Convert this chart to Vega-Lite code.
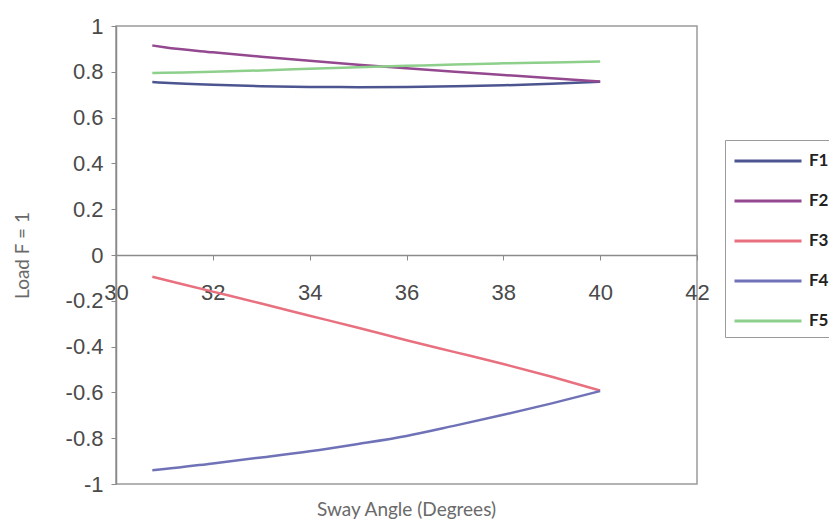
{
  "$schema": "https://vega.github.io/schema/vega-lite/v6.json",
  "autosize": "none",
  "width": 581,
  "height": 458,
  "padding": {"left": 116, "top": 26, "right": 132, "bottom": 39},
  "background": "white",
  "config": {
    "view": {"stroke": "#9a9a9a", "strokeWidth": 1.5},
    "font": "Liberation Sans"
  },
  "title": {
    "text": "Sway Angle (Degrees)",
    "orient": "bottom",
    "anchor": "middle",
    "font": "Lato",
    "fontSize": 19,
    "fontWeight": "normal",
    "color": "#6a6a6a",
    "offset": 6
  },
  "data": {
    "values": [
      {"angle": 30.75, "force": "F1", "load": 0.755},
      {"angle": 31, "force": "F1", "load": 0.752},
      {"angle": 32, "force": "F1", "load": 0.743},
      {"angle": 33, "force": "F1", "load": 0.737},
      {"angle": 34, "force": "F1", "load": 0.734},
      {"angle": 35, "force": "F1", "load": 0.733},
      {"angle": 36, "force": "F1", "load": 0.734},
      {"angle": 37, "force": "F1", "load": 0.737},
      {"angle": 38, "force": "F1", "load": 0.741},
      {"angle": 39, "force": "F1", "load": 0.748},
      {"angle": 40, "force": "F1", "load": 0.757},
      {"angle": 30.75, "force": "F2", "load": 0.915},
      {"angle": 31, "force": "F2", "load": 0.907},
      {"angle": 32, "force": "F2", "load": 0.885},
      {"angle": 33, "force": "F2", "load": 0.866},
      {"angle": 34, "force": "F2", "load": 0.848},
      {"angle": 35, "force": "F2", "load": 0.831},
      {"angle": 36, "force": "F2", "load": 0.815},
      {"angle": 37, "force": "F2", "load": 0.8},
      {"angle": 38, "force": "F2", "load": 0.786},
      {"angle": 39, "force": "F2", "load": 0.772},
      {"angle": 40, "force": "F2", "load": 0.757},
      {"angle": 30.75, "force": "F3", "load": -0.095},
      {"angle": 32, "force": "F3", "load": -0.16},
      {"angle": 33, "force": "F3", "load": -0.212},
      {"angle": 34, "force": "F3", "load": -0.265},
      {"angle": 35, "force": "F3", "load": -0.318},
      {"angle": 36, "force": "F3", "load": -0.372},
      {"angle": 37, "force": "F3", "load": -0.424},
      {"angle": 38, "force": "F3", "load": -0.476},
      {"angle": 39, "force": "F3", "load": -0.532},
      {"angle": 40, "force": "F3", "load": -0.592},
      {"angle": 30.75, "force": "F4", "load": -0.94},
      {"angle": 31, "force": "F4", "load": -0.935},
      {"angle": 32, "force": "F4", "load": -0.91},
      {"angle": 33, "force": "F4", "load": -0.884},
      {"angle": 34, "force": "F4", "load": -0.857},
      {"angle": 35, "force": "F4", "load": -0.825},
      {"angle": 36, "force": "F4", "load": -0.79},
      {"angle": 37, "force": "F4", "load": -0.745},
      {"angle": 38, "force": "F4", "load": -0.698},
      {"angle": 39, "force": "F4", "load": -0.648},
      {"angle": 40, "force": "F4", "load": -0.594},
      {"angle": 30.75, "force": "F5", "load": 0.795},
      {"angle": 31, "force": "F5", "load": 0.796},
      {"angle": 32, "force": "F5", "load": 0.8},
      {"angle": 33, "force": "F5", "load": 0.806},
      {"angle": 34, "force": "F5", "load": 0.813},
      {"angle": 35, "force": "F5", "load": 0.82},
      {"angle": 36, "force": "F5", "load": 0.826},
      {"angle": 37, "force": "F5", "load": 0.832},
      {"angle": 38, "force": "F5", "load": 0.837},
      {"angle": 39, "force": "F5", "load": 0.841},
      {"angle": 40, "force": "F5", "load": 0.845}
    ]
  },
  "mark": {"type": "line", "strokeWidth": 2.5, "interpolate": "monotone"},
  "encoding": {
    "x": {
      "field": "angle",
      "type": "quantitative",
      "scale": {"domain": [30, 42], "nice": false, "zero": false},
      "axis": {
        "orient": "bottom",
        "offset": -229,
        "values": [30, 32, 34, 36, 38, 40, 42],
        "title": null,
        "grid": false,
        "domainColor": "#8a8a8a",
        "domainWidth": 1.5,
        "tickColor": "#8a8a8a",
        "tickSize": 5,
        "labelPadding": 22,
        "labelFontSize": 22,
        "labelColor": "#4a4a4a",
        "labelFont": "Liberation Sans",
        "labelFlush": false,
        "labelOverlap": false
      }
    },
    "y": {
      "field": "load",
      "type": "quantitative",
      "scale": {"domain": [-1, 1], "nice": false},
      "axis": {
        "values": [-1, -0.8, -0.6, -0.4, -0.2, 0, 0.2, 0.4, 0.6, 0.8, 1],
        "labelExpr": "replace(format(datum.value, '~g'), '\u2212', '-')",
        "title": "Load F = 1",
        "titleFont": "Lato",
        "titleFontSize": 19,
        "titleFontWeight": "normal",
        "titleColor": "#6a6a6a",
        "titleX": -84,
        "titleY": 229,
        "grid": false,
        "domainColor": "#8a8a8a",
        "domainWidth": 1.5,
        "tickColor": "#8a8a8a",
        "tickSize": 5,
        "labelPadding": 8,
        "labelFontSize": 22,
        "labelColor": "#4a4a4a",
        "labelFont": "Liberation Sans",
        "labelFlush": false,
        "labelOverlap": false
      }
    },
    "color": {
      "field": "force",
      "type": "nominal",
      "scale": {
        "domain": ["F1", "F2", "F3", "F4", "F5"],
        "range": ["#4c5590", "#94488f", "#e8707f", "#7072b8", "#8ecf8b"]
      },
      "legend": {
        "title": null,
        "orient": "none",
        "legendX": 609,
        "legendY": 114,
        "strokeColor": "#9a9a9a",
        "padding": 8,
        "symbolType": "M-3,0H3",
        "symbolSize": 499,
        "symbolOffset": 22,
        "symbolStrokeWidth": 3,
        "labelFont": "Lato",
        "labelFontWeight": "bold",
        "labelFontSize": 17,
        "labelColor": "#222222",
        "labelOffset": 28,
        "rowPadding": 19
      }
    }
  }
}
